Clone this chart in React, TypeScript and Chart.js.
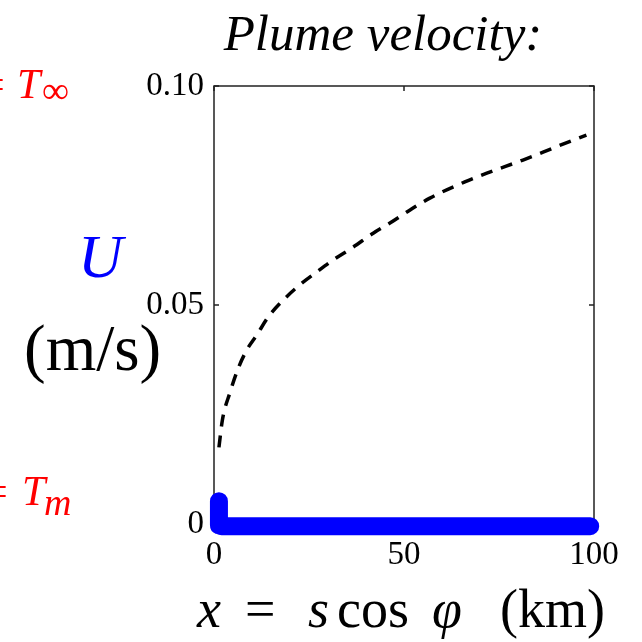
import React, { useEffect, useRef } from "react";
import { Chart, registerables } from "chart.js";

Chart.register(...registerables);

// Dashed curve (black) : plume velocity
const dashX = [1.3, 2.2, 4.2, 6.4, 8.6, 11.3, 14.3, 18.2, 22.6, 27, 31.4, 36.6, 41.9, 46.3, 51.6, 56.8, 66, 71.8, 81.3, 86.6, 92, 98];
const dashY = [0.0175, 0.0237, 0.030, 0.0356, 0.0397, 0.0432, 0.0473, 0.0511, 0.0546, 0.0575, 0.0603, 0.0632, 0.0664, 0.0687, 0.0717, 0.0744, 0.0781, 0.0801, 0.0831, 0.0849, 0.0868, 0.0888];

// Thick blue line : U
const blueX = [1.3, 1.3, 2, 50, 99];
const blueY = [0.0052, -0.0003, -0.0005, -0.0005, -0.0005];

const xTicks = [0, 50, 100];
const yTicks = [0, 0.05, 0.1];
const yTickLabels = ["0", "0.05", "0.10"];

const SERIF = '"Liberation Serif", "DejaVu Serif", serif';

const toPts = (xs: number[], ys: number[]) => xs.map((x, i) => ({ x, y: ys[i] }));

const framePlugin = {
  id: "frame",
  beforeDatasetsDraw(chart: any) {
    const { ctx, chartArea: a, scales } = chart;
    ctx.save();
    ctx.strokeStyle = "#222";
    ctx.lineWidth = 1.5;
    ctx.strokeRect(a.left, a.top, a.right - a.left, a.bottom - a.top);
    const tl = 5;
    ctx.beginPath();
    xTicks.forEach((v) => {
      const px = scales.x.getPixelForValue(v);
      ctx.moveTo(px, a.bottom);
      ctx.lineTo(px, a.bottom - tl);
      ctx.moveTo(px, a.top);
      ctx.lineTo(px, a.top + tl);
    });
    yTicks.forEach((v) => {
      const py = scales.y.getPixelForValue(v);
      ctx.moveTo(a.left, py);
      ctx.lineTo(a.left + tl, py);
      ctx.moveTo(a.right, py);
      ctx.lineTo(a.right - tl, py);
    });
    ctx.stroke();
    ctx.restore();
  },
  afterDraw(chart: any) {
    const { ctx } = chart;
    ctx.save();
    ctx.textBaseline = "alphabetic";
    // title
    ctx.fillStyle = "#000";
    ctx.font = `italic 51px ${SERIF}`;
    ctx.textAlign = "center";
    ctx.fillText("Plume velocity:", 383, 50);
    ctx.textAlign = "left";

    // x label
    const segs: [string, boolean, number][] = [
      ["x", true, 197],
      ["=", false, 245],
      ["s", true, 308],
      ["cos", false, 337],
      ["φ", true, 432],
      ["(km)", false, 500],
    ];
    segs.forEach(([t, it, x]) => {
      ctx.font = `${it ? "italic " : ""}54px ${SERIF}`;
      ctx.fillText(t, x, 627);
    });

    // left labels
    ctx.fillStyle = "#ff0000";
    ctx.font = `42px ${SERIF}`;
    ctx.fillText("=", -19, 98);
    ctx.font = `italic 42px ${SERIF}`;
    ctx.fillText("T", 17, 98);
    ctx.font = `38px ${SERIF}`;
    ctx.fillText("∞", 42, 103);

    ctx.font = `42px ${SERIF}`;
    ctx.fillText("=", -16, 505);
    ctx.font = `italic 42px ${SERIF}`;
    ctx.fillText("T", 22, 505);
    ctx.font = `italic 38px ${SERIF}`;
    ctx.fillText("m", 44, 515);

    ctx.fillStyle = "#0000ff";
    ctx.font = `italic 62px ${SERIF}`;
    ctx.fillText("U", 78, 277);

    ctx.fillStyle = "#000";
    ctx.font = `65px ${SERIF}`;
    ctx.fillText("(m/s)", 24, 370);
    ctx.restore();
  },
};

export default function App() {
  const ref = useRef<HTMLCanvasElement | null>(null);
  useEffect(() => {
    if (!ref.current) return;
    const chart = new Chart(ref.current, {
      type: "line",
      data: {
        datasets: [
          {
            label: "dashed",
            data: toPts(dashX, dashY),
            borderColor: "#000",
            borderWidth: 3.5,
            borderDash: [12, 9],
            pointRadius: 0,
            cubicInterpolationMode: "monotone",
            fill: false,
            clip: false as any,
          },
          {
            label: "U",
            data: toPts(blueX, blueY),
            borderColor: "#0000ff",
            borderWidth: 18,
            borderCapStyle: "round",
            borderJoinStyle: "round",
            pointRadius: 0,
            tension: 0,
            fill: false,
            clip: false as any,
          },
        ],
      },
      options: {
        animation: false,
        responsive: false,
        devicePixelRatio: 1,
        layout: { padding: { left: 0, top: 86, right: 48, bottom: 0 } },
        plugins: { legend: { display: false }, tooltip: { enabled: false }, title: { display: false } },
        scales: {
          x: {
            type: "linear",
            min: 0,
            max: 100,
            afterFit: (s: any) => { s.height = 118; },
            afterBuildTicks: (s: any) => { s.ticks = xTicks.map((v) => ({ value: v })); },
            grid: { display: false, drawTicks: false },
            border: { display: false },
            ticks: { color: "#000", font: { family: SERIF, size: 33 }, padding: 12, maxRotation: 0, autoSkip: false },
          },
          y: {
            type: "linear",
            min: 0,
            max: 0.1,
            afterFit: (s: any) => { s.width = 214; },
            afterBuildTicks: (s: any) => { s.ticks = yTicks.map((v) => ({ value: v })); },
            grid: { display: false, drawTicks: false },
            border: { display: false },
            ticks: {
              color: "#000",
              font: { family: SERIF, size: 33 },
              padding: 10,
              autoSkip: false,
              callback: (v: any) => yTickLabels[yTicks.indexOf(Number(v))] ?? "",
            },
          },
        },
      },
      plugins: [framePlugin],
    });
    return () => chart.destroy();
  }, []);
  return (
    <div style={{ position: "absolute", left: 0, top: 0, width: 642, height: 642, background: "#fff" }}>
      <canvas ref={ref} width={642} height={642} />
    </div>
  );
}
